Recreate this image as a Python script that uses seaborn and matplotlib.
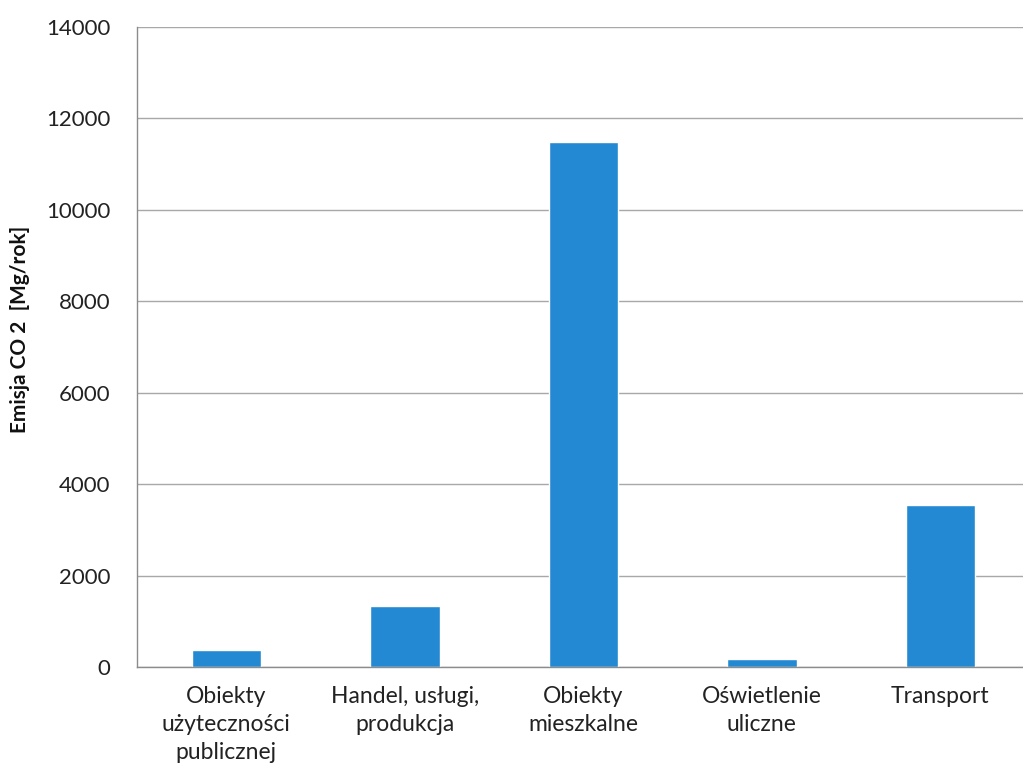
import matplotlib
matplotlib.use('Agg')
import matplotlib.pyplot as plt
import seaborn as sns
import pandas as pd

# Data
categories = ['Obiekty\nużyteczności\npublicznej', 'Handel, usługi,\nprodukcja',
              'Obiekty\nmieszkalne', 'Oświetlenie\nuliczne', 'Transport']
emissions = [370, 1335, 11490, 170, 3545]
y_ticks = [0, 2000, 4000, 6000, 8000, 10000, 12000, 14000]

df = pd.DataFrame({'kategoria': categories, 'emisja': emissions})

sns.set_style('white')
plt.rcParams['font.family'] = ['Lato', 'DejaVu Sans']

fig = plt.figure(figsize=(10.23, 7.77), dpi=100)
ax = fig.add_axes([0.134, 0.1416, 0.8725, 0.8237])

sns.barplot(x='kategoria', y='emisja', data=df, color='#2389D3',
            width=0.39, saturation=1, ax=ax)

ax.set_ylim(0, 14000)
ax.set_xlim(-0.5, 4.5)
ax.set_yticks(y_ticks)
ax.set_yticklabels([str(t) for t in y_ticks], fontsize=16, color='#222222')
ax.tick_params(axis='y', length=0, pad=19)
ax.tick_params(axis='x', length=0, pad=14, labelsize=16.5, labelcolor='#222222')
for lbl in ax.get_xticklabels():
    lbl.set_linespacing(1.4)
ax.grid(axis='y', color='#a8a8a8', linewidth=1)
ax.set_axisbelow(True)

for s in ['top', 'right']:
    ax.spines[s].set_visible(False)
for s in ['left', 'bottom']:
    ax.spines[s].set_color('#8c8c8c')
    ax.spines[s].set_linewidth(1)

ax.set_xlabel('')
ax.set_ylabel('Emisja CO 2  [Mg/rok]', fontsize=15, fontweight='bold',
              color='#111111')
ax.yaxis.set_label_coords(-0.12, 0.527)

plt.savefig('out.png', dpi=100)
